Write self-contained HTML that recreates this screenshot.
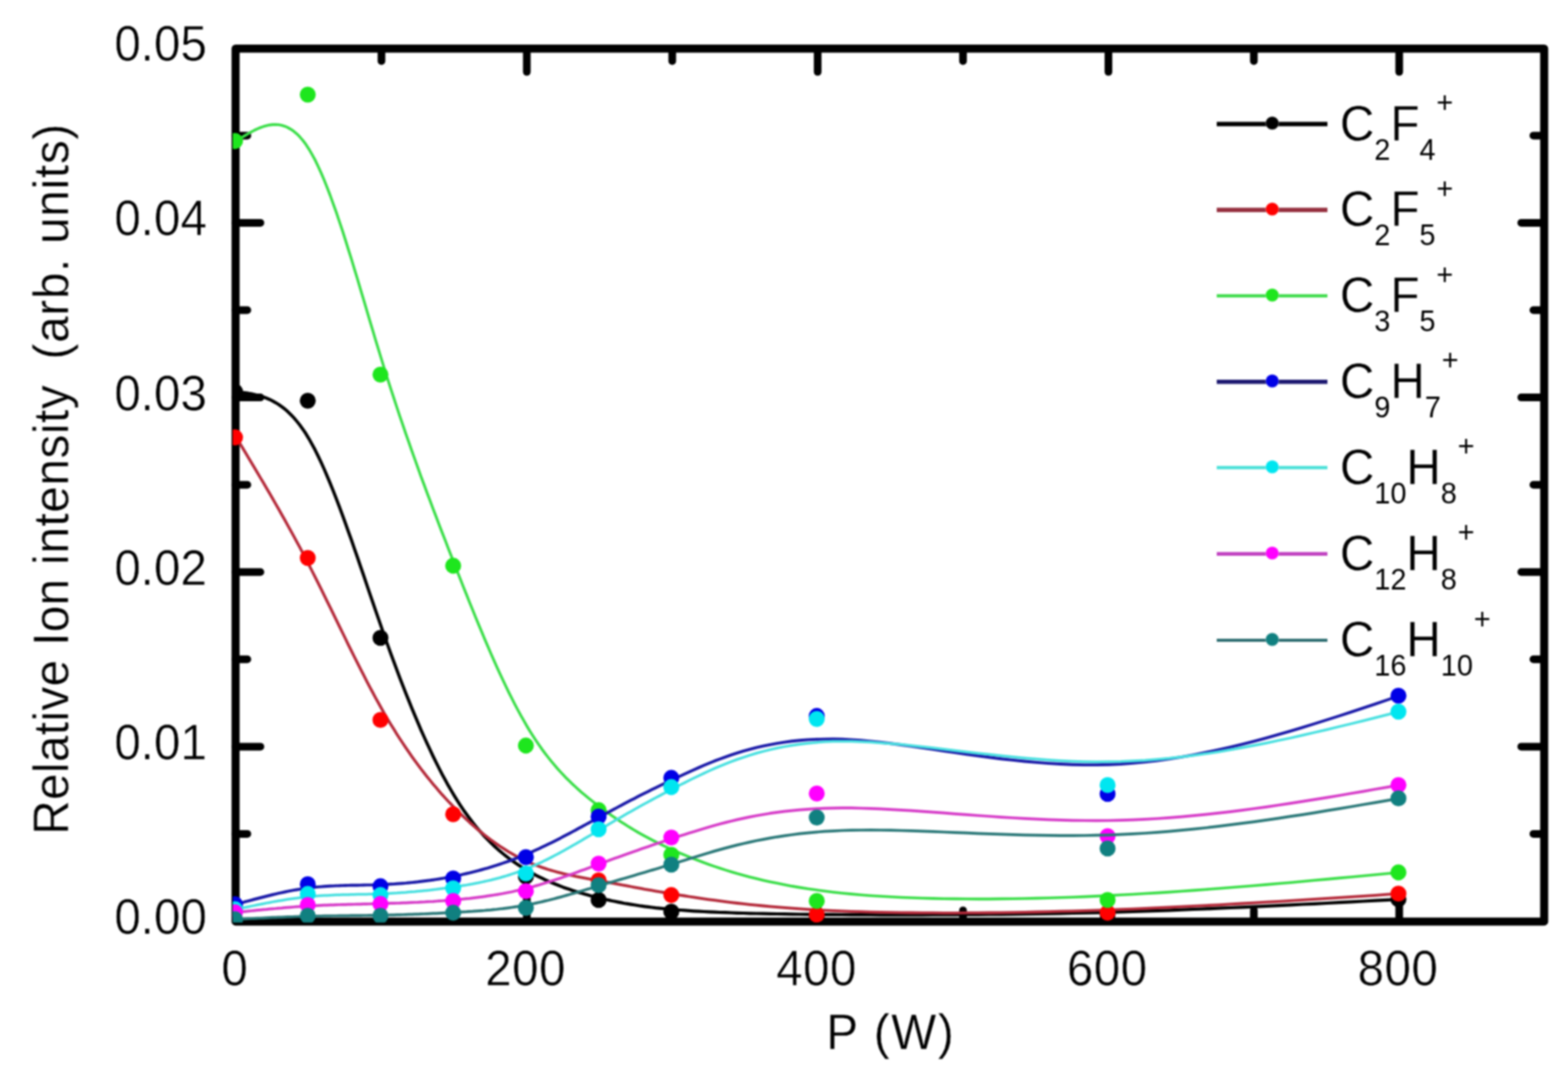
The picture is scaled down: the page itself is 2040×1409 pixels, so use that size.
<!DOCTYPE html>
<html lang="en"><head><meta charset="utf-8"><title>Relative ion intensity vs P (W)</title>
<style>html,body{margin:0;padding:0;background:#fff}svg{display:block}</style></head>
<body>
<svg width="2040" height="1409" viewBox="0 0 2040 1409">
<rect width="2040" height="1409" fill="#ffffff"/>
<defs><filter id="soft" x="0" y="0" width="100%" height="100%" filterUnits="userSpaceOnUse" color-interpolation-filters="sRGB"><feGaussianBlur stdDeviation="1.2"/></filter></defs>
<g filter="url(#soft)">
<defs><clipPath id="pc"><rect x="302.8" y="58" width="1711.7" height="1142.3"/></clipPath></defs>
<g fill="none" stroke="#000" stroke-width="10.5" stroke-linejoin="round" stroke-linecap="round">
<rect x="306.5" y="63.2" width="1702.5" height="1135.7"/>
<path d="M496.3,1198.9 v-14.5 M496.3,63.2 v16.2 M685.4,1198.9 v-30.2 M685.4,63.2 v30.4 M874.6,1198.9 v-14.5 M874.6,63.2 v16.2 M1063.8,1198.9 v-30.2 M1063.8,63.2 v30.4 M1252.9,1198.9 v-14.5 M1252.9,63.2 v16.2 M1442.1,1198.9 v-30.2 M1442.1,63.2 v30.4 M1631.3,1198.9 v-14.5 M1631.3,63.2 v16.2 M1820.4,1198.9 v-30.2 M1820.4,63.2 v30.4 M306.5,1084.9 h15.3 M2009.0,1084.9 h-14.0 M306.5,971.4 h32.3 M2009.0,971.4 h-29.8 M306.5,857.8 h15.3 M2009.0,857.8 h-14.0 M306.5,744.2 h32.3 M2009.0,744.2 h-29.8 M306.5,630.7 h15.3 M2009.0,630.7 h-14.0 M306.5,517.1 h32.3 M2009.0,517.1 h-29.8 M306.5,403.5 h15.3 M2009.0,403.5 h-14.0 M306.5,289.9 h32.3 M2009.0,289.9 h-29.8 M306.5,176.4 h15.3 M2009.0,176.4 h-14.0" stroke-width="10"/>
</g>
<g font-family="'Liberation Sans', Arial, sans-serif" fill="#000" stroke="#fff" stroke-width="0.35">
<g stroke-width="0.6">
<text transform="translate(269.3,1215.0) scale(1.0,1.032)" font-size="62" text-anchor="end">0.00</text>
<text transform="translate(269.3,987.9) scale(1.0,1.032)" font-size="62" text-anchor="end">0.01</text>
<text transform="translate(269.3,760.7) scale(1.0,1.032)" font-size="62" text-anchor="end">0.02</text>
<text transform="translate(269.3,533.6) scale(1.0,1.032)" font-size="62" text-anchor="end">0.03</text>
<text transform="translate(269.3,306.4) scale(1.0,1.032)" font-size="62" text-anchor="end">0.04</text>
<text transform="translate(269.3,79.3) scale(1.0,1.032)" font-size="62" text-anchor="end">0.05</text>
<text transform="translate(305.5,1281.5) scale(1.0,1.032)" font-size="62" text-anchor="middle" letter-spacing="0.5">0</text>
<text transform="translate(683.8,1281.5) scale(1.0,1.032)" font-size="62" text-anchor="middle" letter-spacing="0.5">200</text>
<text transform="translate(1062.2,1281.5) scale(1.0,1.032)" font-size="62" text-anchor="middle" letter-spacing="0.5">400</text>
<text transform="translate(1440.5,1281.5) scale(1.0,1.032)" font-size="62" text-anchor="middle" letter-spacing="0.5">600</text>
<text transform="translate(1818.8,1281.5) scale(1.0,1.032)" font-size="62" text-anchor="middle" letter-spacing="0.5">800</text>
</g>
<text transform="translate(1074.9,1364.7) scale(1.0,1.032)" font-size="62" text-anchor="start" letter-spacing="2.2">P (W)</text>
<text transform="translate(88.6,1086.0) rotate(-90) scale(1.0,1.032)" font-size="62" text-anchor="start" xml:space="preserve" style="white-space:pre"><tspan letter-spacing="0.5">Relative Ion </tspan><tspan letter-spacing="0.8">intensity</tspan><tspan letter-spacing="-0.9">  </tspan><tspan letter-spacing="0.95">(arb. units)</tspan></text>
</g>
<g clip-path="url(#pc)">
<path d="M307.3,509.5 L311.2,510.0 L315.2,510.5 L319.1,511.1 L323.1,511.7 L327.0,512.4 L330.9,513.2 L334.9,514.2 L338.8,515.3 L342.8,516.5 L346.7,518.0 L350.7,519.7 L354.6,521.6 L358.5,523.8 L362.5,526.2 L366.4,529.0 L370.4,532.0 L374.3,535.4 L378.2,539.2 L382.2,543.4 L386.1,548.0 L390.1,553.0 L394.0,558.4 L398.0,564.3 L401.9,570.8 L405.8,577.7 L409.8,585.1 L413.7,593.0 L417.7,601.3 L421.6,610.0 L425.5,619.1 L429.5,628.6 L433.4,638.3 L437.4,648.4 L441.3,658.8 L445.3,669.4 L449.2,680.2 L453.1,691.2 L457.1,702.3 L461.0,713.6 L465.0,725.0 L468.9,736.5 L472.9,748.0 L476.8,759.6 L480.7,771.2 L484.7,782.7 L488.6,794.2 L492.6,805.6 L496.5,816.9 L500.4,828.1 L504.4,839.1 L508.3,850.0 L512.3,860.7 L516.2,871.3 L520.1,881.7 L524.1,891.9 L528.0,902.0 L532.0,911.9 L535.9,921.6 L539.9,931.1 L543.8,940.4 L547.7,949.6 L551.7,958.5 L555.6,967.2 L559.6,975.7 L563.5,984.0 L567.5,992.1 L571.4,999.9 L575.3,1007.5 L579.3,1014.8 L583.2,1021.9 L587.2,1028.8 L591.1,1035.4 L595.0,1041.7 L599.0,1047.8 L602.9,1053.7 L606.9,1059.3 L610.8,1064.6 L614.8,1069.8 L618.7,1074.7 L622.6,1079.4 L626.6,1083.9 L630.5,1088.3 L634.5,1092.4 L638.4,1096.3 L642.3,1100.1 L646.3,1103.7 L650.2,1107.2 L654.2,1110.5 L658.1,1113.6 L662.0,1116.6 L666.0,1119.5 L669.9,1122.3 L673.9,1124.9 L677.8,1127.5 L681.8,1129.9 L685.7,1132.2 L689.6,1134.5 L693.6,1136.7 L697.5,1138.8 L701.5,1140.8 L705.4,1142.7 L709.3,1144.6 L713.3,1146.4 L717.2,1148.1 L721.2,1149.7 L725.1,1151.3 L729.1,1152.9 L733.0,1154.4 L736.9,1155.8 L740.9,1157.1 L744.8,1158.4 L748.8,1159.7 L752.7,1160.9 L756.6,1162.1 L760.6,1163.2 L764.5,1164.3 L768.5,1165.4 L772.4,1166.4 L776.4,1167.4 L780.3,1168.4 L784.2,1169.3 L788.2,1170.2 L792.2,1171.1 L796.1,1172.0 L800.2,1172.8 L804.2,1173.6 L808.3,1174.4 L812.4,1175.2 L816.6,1175.9 L820.9,1176.6 L825.2,1177.3 L829.6,1178.0 L834.0,1178.7 L838.6,1179.3 L843.3,1179.9 L848.0,1180.5 L852.9,1181.1 L857.9,1181.6 L863.0,1182.1 L868.3,1182.6 L873.6,1183.1 L879.2,1183.6 L884.8,1184.0 L890.7,1184.4 L896.7,1184.9 L902.8,1185.3 L909.2,1185.6 L915.7,1186.0 L922.4,1186.3 L929.3,1186.6 L936.5,1187.0 L943.8,1187.2 L951.4,1187.5 L959.1,1187.8 L967.2,1188.0 L975.4,1188.3 L983.9,1188.5 L992.7,1188.7 L1001.7,1188.9 L1011.0,1189.0 L1020.5,1189.2 L1030.3,1189.4 L1040.5,1189.5 L1050.9,1189.6 L1061.6,1189.7 L1072.6,1189.9 L1084.0,1189.9 L1095.6,1190.0 L1107.6,1190.1 L1119.9,1190.2 L1132.5,1190.2 L1145.4,1190.3 L1158.6,1190.3 L1172.0,1190.3 L1185.7,1190.3 L1199.6,1190.3 L1213.7,1190.2 L1228.0,1190.2 L1242.5,1190.1 L1257.2,1190.0 L1272.1,1189.9 L1287.1,1189.7 L1302.3,1189.6 L1317.5,1189.4 L1332.9,1189.1 L1348.4,1188.9 L1364.0,1188.6 L1379.6,1188.3 L1395.3,1188.0 L1411.0,1187.6 L1426.7,1187.3 L1442.5,1186.8 L1458.3,1186.4 L1474.0,1185.9 L1489.8,1185.4 L1505.6,1184.8 L1521.3,1184.3 L1537.1,1183.7 L1552.9,1183.0 L1568.6,1182.4 L1584.4,1181.7 L1600.2,1181.0 L1615.9,1180.3 L1631.7,1179.6 L1647.5,1178.9 L1663.2,1178.1 L1679.0,1177.3 L1694.8,1176.5 L1710.5,1175.8 L1726.3,1175.0 L1742.1,1174.1 L1757.8,1173.3 L1773.6,1172.5 L1789.4,1171.7 L1805.1,1170.8 L1820.9,1170.0" fill="none" stroke="#000000" stroke-width="4.2" stroke-linejoin="round" stroke-linecap="round"/>
<g fill="#000000"><circle cx="305.8" cy="509.5" r="10.4"/><circle cx="400.4" cy="521.3" r="10.4"/><circle cx="495.0" cy="829.9" r="10.4"/><circle cx="684.2" cy="1140.5" r="10.4"/><circle cx="778.8" cy="1170.9" r="10.4"/><circle cx="873.4" cy="1186.2" r="10.4"/><circle cx="1062.6" cy="1191.0" r="10.4"/><circle cx="1441.0" cy="1190.0" r="10.4"/><circle cx="1819.4" cy="1170.0" r="10.4"/></g>
<path d="M307.3,569.0 L311.2,575.5 L315.2,582.1 L319.1,588.6 L323.1,595.2 L327.0,601.7 L330.9,608.3 L334.9,615.0 L338.8,621.6 L342.8,628.3 L346.7,635.0 L350.7,641.7 L354.6,648.5 L358.5,655.4 L362.5,662.3 L366.4,669.2 L370.4,676.2 L374.3,683.3 L378.2,690.4 L382.2,697.6 L386.1,704.9 L390.1,712.2 L394.0,719.7 L398.0,727.2 L401.9,734.8 L405.8,742.5 L409.8,750.3 L413.7,758.2 L417.7,766.1 L421.6,774.1 L425.5,782.1 L429.5,790.2 L433.4,798.2 L437.4,806.3 L441.3,814.4 L445.3,822.5 L449.2,830.5 L453.1,838.6 L457.1,846.6 L461.0,854.5 L465.0,862.4 L468.9,870.2 L472.9,877.9 L476.8,885.6 L480.7,893.1 L484.7,900.5 L488.6,907.8 L492.6,915.0 L496.5,922.0 L500.4,928.9 L504.4,935.6 L508.3,942.2 L512.3,948.6 L516.2,954.9 L520.1,961.0 L524.1,967.0 L528.0,972.9 L532.0,978.7 L535.9,984.3 L539.9,989.8 L543.8,995.1 L547.7,1000.4 L551.7,1005.5 L555.6,1010.5 L559.6,1015.4 L563.5,1020.2 L567.5,1024.8 L571.4,1029.4 L575.3,1033.9 L579.3,1038.2 L583.2,1042.5 L587.2,1046.6 L591.1,1050.7 L595.0,1054.7 L599.0,1058.6 L602.9,1062.4 L606.9,1066.1 L610.8,1069.7 L614.8,1073.2 L618.7,1076.7 L622.6,1080.0 L626.6,1083.3 L630.5,1086.4 L634.5,1089.5 L638.4,1092.5 L642.3,1095.3 L646.3,1098.1 L650.2,1100.8 L654.2,1103.4 L658.1,1105.9 L662.0,1108.3 L666.0,1110.6 L669.9,1112.9 L673.9,1115.0 L677.8,1117.0 L681.8,1118.9 L685.7,1120.8 L689.6,1122.5 L693.6,1124.2 L697.5,1125.7 L701.5,1127.2 L705.4,1128.6 L709.3,1129.9 L713.3,1131.2 L717.2,1132.4 L721.2,1133.5 L725.1,1134.6 L729.1,1135.6 L733.0,1136.6 L736.9,1137.5 L740.9,1138.4 L744.8,1139.2 L748.8,1140.1 L752.7,1140.8 L756.6,1141.6 L760.6,1142.4 L764.5,1143.1 L768.5,1143.8 L772.4,1144.5 L776.4,1145.2 L780.3,1145.9 L784.2,1146.7 L788.2,1147.4 L792.2,1148.1 L796.1,1148.9 L800.2,1149.6 L804.2,1150.4 L808.3,1151.2 L812.4,1151.9 L816.6,1152.7 L820.9,1153.5 L825.2,1154.3 L829.6,1155.1 L834.0,1155.9 L838.6,1156.8 L843.3,1157.6 L848.0,1158.4 L852.9,1159.3 L857.9,1160.2 L863.0,1161.0 L868.3,1161.9 L873.6,1162.8 L879.2,1163.7 L884.8,1164.6 L890.7,1165.5 L896.7,1166.5 L902.8,1167.4 L909.2,1168.4 L915.7,1169.3 L922.4,1170.3 L929.3,1171.2 L936.5,1172.2 L943.8,1173.1 L951.4,1174.1 L959.1,1175.0 L967.2,1175.9 L975.4,1176.8 L983.9,1177.7 L992.7,1178.5 L1001.7,1179.4 L1011.0,1180.2 L1020.5,1180.9 L1030.3,1181.7 L1040.5,1182.4 L1050.9,1183.1 L1061.6,1183.7 L1072.6,1184.3 L1084.0,1184.8 L1095.6,1185.3 L1107.6,1185.8 L1119.9,1186.2 L1132.5,1186.6 L1145.4,1186.9 L1158.6,1187.1 L1172.0,1187.3 L1185.7,1187.5 L1199.6,1187.6 L1213.7,1187.7 L1228.0,1187.8 L1242.5,1187.8 L1257.2,1187.7 L1272.1,1187.6 L1287.1,1187.5 L1302.3,1187.3 L1317.5,1187.1 L1332.9,1186.8 L1348.4,1186.5 L1364.0,1186.1 L1379.6,1185.7 L1395.3,1185.3 L1411.0,1184.8 L1426.7,1184.3 L1442.5,1183.8 L1458.3,1183.2 L1474.0,1182.6 L1489.8,1181.9 L1505.6,1181.2 L1521.3,1180.5 L1537.1,1179.7 L1552.9,1178.9 L1568.6,1178.1 L1584.4,1177.3 L1600.2,1176.4 L1615.9,1175.5 L1631.7,1174.6 L1647.5,1173.7 L1663.2,1172.8 L1679.0,1171.8 L1694.8,1170.8 L1710.5,1169.8 L1726.3,1168.8 L1742.1,1167.8 L1757.8,1166.8 L1773.6,1165.8 L1789.4,1164.8 L1805.1,1163.7 L1820.9,1162.7" fill="none" stroke="#b42a3a" stroke-width="3.8" stroke-linejoin="round" stroke-linecap="round"/>
<g fill="#ff0000"><circle cx="305.8" cy="569.0" r="10.4"/><circle cx="400.4" cy="725.8" r="10.4"/><circle cx="495.0" cy="936.7" r="10.4"/><circle cx="589.6" cy="1059.4" r="10.4"/><circle cx="778.8" cy="1145.3" r="10.4"/><circle cx="873.4" cy="1164.5" r="10.4"/><circle cx="1062.6" cy="1190.0" r="10.4"/><circle cx="1441.0" cy="1187.5" r="10.4"/><circle cx="1819.4" cy="1162.7" r="10.4"/></g>
<path d="M307.3,183.5 L311.2,181.0 L315.2,178.5 L319.1,176.1 L323.1,173.8 L327.0,171.6 L330.9,169.5 L334.9,167.6 L338.8,166.0 L342.8,164.6 L346.7,163.5 L350.7,162.6 L354.6,162.1 L358.5,162.0 L362.5,162.3 L366.4,163.0 L370.4,164.2 L374.3,165.9 L378.2,168.1 L382.2,170.8 L386.1,174.1 L390.1,178.1 L394.0,182.6 L398.0,187.9 L401.9,193.9 L405.8,200.6 L409.8,207.9 L413.7,216.0 L417.7,224.7 L421.6,233.9 L425.5,243.7 L429.5,254.0 L433.4,264.8 L437.4,275.9 L441.3,287.5 L445.3,299.4 L449.2,311.6 L453.1,324.1 L457.1,336.8 L461.0,349.8 L465.0,362.8 L468.9,376.0 L472.9,389.2 L476.8,402.5 L480.7,415.8 L484.7,429.0 L488.6,442.2 L492.6,455.2 L496.5,468.0 L500.4,480.7 L504.4,493.2 L508.3,505.5 L512.3,517.6 L516.2,529.5 L520.1,541.3 L524.1,552.9 L528.0,564.4 L532.0,575.7 L535.9,586.9 L539.9,598.0 L543.8,608.9 L547.7,619.8 L551.7,630.5 L555.6,641.1 L559.6,651.7 L563.5,662.1 L567.5,672.5 L571.4,682.8 L575.3,693.0 L579.3,703.2 L583.2,713.4 L587.2,723.5 L591.1,733.5 L595.0,743.6 L599.0,753.6 L602.9,763.6 L606.9,773.5 L610.8,783.3 L614.8,793.1 L618.7,802.8 L622.6,812.3 L626.6,821.8 L630.5,831.2 L634.5,840.5 L638.4,849.6 L642.3,858.5 L646.3,867.4 L650.2,876.0 L654.2,884.5 L658.1,892.8 L662.0,900.9 L666.0,908.8 L669.9,916.5 L673.9,924.0 L677.8,931.2 L681.8,938.2 L685.7,945.0 L689.6,951.5 L693.6,957.7 L697.5,963.7 L701.5,969.5 L705.4,975.1 L709.3,980.4 L713.3,985.5 L717.2,990.4 L721.2,995.2 L725.1,999.7 L729.1,1004.1 L733.0,1008.3 L736.9,1012.4 L740.9,1016.3 L744.8,1020.1 L748.8,1023.8 L752.7,1027.3 L756.6,1030.8 L760.6,1034.1 L764.5,1037.4 L768.5,1040.6 L772.4,1043.7 L776.4,1046.7 L780.3,1049.7 L784.2,1052.6 L788.2,1055.5 L792.2,1058.4 L796.1,1061.2 L800.2,1064.0 L804.2,1066.7 L808.3,1069.4 L812.4,1072.1 L816.6,1074.8 L820.9,1077.4 L825.2,1080.0 L829.6,1082.6 L834.0,1085.1 L838.6,1087.6 L843.3,1090.2 L848.0,1092.7 L852.9,1095.2 L857.9,1097.6 L863.0,1100.1 L868.3,1102.6 L873.6,1105.1 L879.2,1107.5 L884.8,1110.0 L890.7,1112.4 L896.7,1114.9 L902.8,1117.4 L909.2,1119.8 L915.7,1122.3 L922.4,1124.7 L929.3,1127.1 L936.5,1129.5 L943.8,1131.9 L951.4,1134.2 L959.1,1136.5 L967.2,1138.7 L975.4,1140.9 L983.9,1143.1 L992.7,1145.2 L1001.7,1147.2 L1011.0,1149.1 L1020.5,1151.0 L1030.3,1152.9 L1040.5,1154.6 L1050.9,1156.3 L1061.6,1157.8 L1072.6,1159.3 L1084.0,1160.7 L1095.6,1162.0 L1107.6,1163.1 L1119.9,1164.2 L1132.5,1165.2 L1145.4,1166.0 L1158.6,1166.8 L1172.0,1167.5 L1185.7,1168.0 L1199.6,1168.5 L1213.7,1168.9 L1228.0,1169.2 L1242.5,1169.4 L1257.2,1169.5 L1272.1,1169.6 L1287.1,1169.6 L1302.3,1169.4 L1317.5,1169.2 L1332.9,1169.0 L1348.4,1168.6 L1364.0,1168.2 L1379.6,1167.7 L1395.3,1167.2 L1411.0,1166.6 L1426.7,1165.9 L1442.5,1165.1 L1458.3,1164.3 L1474.0,1163.5 L1489.8,1162.5 L1505.6,1161.6 L1521.3,1160.6 L1537.1,1159.5 L1552.9,1158.4 L1568.6,1157.2 L1584.4,1156.0 L1600.2,1154.8 L1615.9,1153.5 L1631.7,1152.2 L1647.5,1150.9 L1663.2,1149.5 L1679.0,1148.2 L1694.8,1146.8 L1710.5,1145.3 L1726.3,1143.9 L1742.1,1142.4 L1757.8,1141.0 L1773.6,1139.5 L1789.4,1138.0 L1805.1,1136.5 L1820.9,1135.0" fill="none" stroke="#3ade48" stroke-width="3.6" stroke-linejoin="round" stroke-linecap="round"/>
<g fill="#1ee61e"><circle cx="305.8" cy="183.5" r="10.4"/><circle cx="400.4" cy="123.1" r="10.4"/><circle cx="495.0" cy="487.3" r="10.4"/><circle cx="589.6" cy="736.0" r="10.4"/><circle cx="684.2" cy="970.0" r="10.4"/><circle cx="778.8" cy="1054.0" r="10.4"/><circle cx="873.4" cy="1112.1" r="10.4"/><circle cx="1062.6" cy="1172.2" r="10.4"/><circle cx="1441.0" cy="1170.9" r="10.4"/><circle cx="1819.4" cy="1135.0" r="10.4"/></g>
<path d="M307.3,1176.5 L311.2,1175.4 L315.2,1174.3 L319.1,1173.2 L323.1,1172.2 L327.0,1171.1 L330.9,1170.0 L334.9,1169.0 L338.8,1168.0 L342.8,1167.0 L346.7,1166.0 L350.7,1165.0 L354.6,1164.0 L358.5,1163.1 L362.5,1162.2 L366.4,1161.4 L370.4,1160.5 L374.3,1159.7 L378.2,1158.9 L382.2,1158.2 L386.1,1157.5 L390.1,1156.9 L394.0,1156.3 L398.0,1155.7 L401.9,1155.2 L405.8,1154.7 L409.8,1154.3 L413.7,1153.9 L417.7,1153.6 L421.6,1153.3 L425.5,1153.0 L429.5,1152.8 L433.4,1152.6 L437.4,1152.4 L441.3,1152.3 L445.3,1152.1 L449.2,1152.0 L453.1,1151.9 L457.1,1151.8 L461.0,1151.8 L465.0,1151.7 L468.9,1151.6 L472.9,1151.5 L476.8,1151.4 L480.7,1151.4 L484.7,1151.3 L488.6,1151.1 L492.6,1151.0 L496.5,1150.9 L500.4,1150.7 L504.4,1150.5 L508.3,1150.3 L512.3,1150.1 L516.2,1149.8 L520.1,1149.5 L524.1,1149.2 L528.0,1148.9 L532.0,1148.5 L535.9,1148.1 L539.9,1147.7 L543.8,1147.3 L547.7,1146.8 L551.7,1146.3 L555.6,1145.8 L559.6,1145.3 L563.5,1144.7 L567.5,1144.1 L571.4,1143.5 L575.3,1142.8 L579.3,1142.1 L583.2,1141.4 L587.2,1140.7 L591.1,1139.9 L595.0,1139.1 L599.0,1138.3 L602.9,1137.4 L606.9,1136.5 L610.8,1135.6 L614.8,1134.6 L618.7,1133.6 L622.6,1132.6 L626.6,1131.5 L630.5,1130.4 L634.5,1129.3 L638.4,1128.1 L642.3,1126.9 L646.3,1125.7 L650.2,1124.4 L654.2,1123.0 L658.1,1121.7 L662.0,1120.3 L666.0,1118.8 L669.9,1117.4 L673.9,1115.8 L677.8,1114.3 L681.8,1112.7 L685.7,1111.0 L689.6,1109.3 L693.6,1107.6 L697.5,1105.8 L701.5,1104.0 L705.4,1102.1 L709.3,1100.2 L713.3,1098.3 L717.2,1096.4 L721.2,1094.4 L725.1,1092.4 L729.1,1090.4 L733.0,1088.3 L736.9,1086.3 L740.9,1084.2 L744.8,1082.1 L748.8,1080.0 L752.7,1077.8 L756.6,1075.7 L760.6,1073.6 L764.5,1071.4 L768.5,1069.3 L772.4,1067.1 L776.4,1065.0 L780.3,1062.8 L784.2,1060.7 L788.2,1058.5 L792.2,1056.4 L796.1,1054.2 L800.2,1052.1 L804.2,1049.9 L808.3,1047.7 L812.4,1045.5 L816.6,1043.3 L820.9,1041.1 L825.2,1038.9 L829.6,1036.6 L834.0,1034.3 L838.6,1032.0 L843.3,1029.7 L848.0,1027.3 L852.9,1024.9 L857.9,1022.5 L863.0,1020.0 L868.3,1017.5 L873.6,1014.9 L879.2,1012.3 L884.8,1009.7 L890.7,1007.0 L896.7,1004.2 L902.8,1001.4 L909.2,998.6 L915.7,995.8 L922.4,993.0 L929.3,990.2 L936.5,987.5 L943.8,984.8 L951.4,982.2 L959.1,979.7 L967.2,977.2 L975.4,974.9 L983.9,972.7 L992.7,970.7 L1001.7,968.8 L1011.0,967.1 L1020.5,965.6 L1030.3,964.3 L1040.5,963.3 L1050.9,962.4 L1061.6,961.9 L1072.6,961.6 L1084.0,961.5 L1095.6,961.8 L1107.6,962.4 L1119.9,963.3 L1132.5,964.4 L1145.4,965.8 L1158.6,967.3 L1172.0,969.0 L1185.7,970.9 L1199.6,972.9 L1213.7,974.9 L1228.0,977.0 L1242.5,979.1 L1257.2,981.2 L1272.1,983.3 L1287.1,985.3 L1302.3,987.2 L1317.5,988.9 L1332.9,990.5 L1348.4,991.9 L1364.0,993.1 L1379.6,994.0 L1395.3,994.7 L1411.0,995.1 L1426.7,995.1 L1442.5,994.7 L1458.3,994.0 L1474.0,992.8 L1489.8,991.4 L1505.6,989.5 L1521.3,987.4 L1537.1,984.9 L1552.9,982.1 L1568.6,979.0 L1584.4,975.7 L1600.2,972.1 L1615.9,968.3 L1631.7,964.3 L1647.5,960.1 L1663.2,955.6 L1679.0,951.1 L1694.8,946.4 L1710.5,941.5 L1726.3,936.5 L1742.1,931.5 L1757.8,926.3 L1773.6,921.1 L1789.4,915.8 L1805.1,910.5 L1820.9,905.2" fill="none" stroke="#1a1aa8" stroke-width="3.9" stroke-linejoin="round" stroke-linecap="round"/>
<g fill="#0000e6"><circle cx="305.8" cy="1176.5" r="10.4"/><circle cx="400.4" cy="1150.4" r="10.4"/><circle cx="495.0" cy="1153.0" r="10.4"/><circle cx="589.6" cy="1142.8" r="10.4"/><circle cx="684.2" cy="1115.2" r="10.4"/><circle cx="778.8" cy="1062.4" r="10.4"/><circle cx="873.4" cy="1012.0" r="10.4"/><circle cx="1062.6" cy="931.5" r="10.4"/><circle cx="1441.0" cy="1032.9" r="10.4"/><circle cx="1819.4" cy="905.2" r="10.4"/></g>
<path d="M307.3,1183.0 L311.2,1182.2 L315.2,1181.3 L319.1,1180.5 L323.1,1179.7 L327.0,1178.9 L330.9,1178.1 L334.9,1177.3 L338.8,1176.5 L342.8,1175.7 L346.7,1174.9 L350.7,1174.2 L354.6,1173.4 L358.5,1172.7 L362.5,1172.0 L366.4,1171.4 L370.4,1170.7 L374.3,1170.1 L378.2,1169.5 L382.2,1168.9 L386.1,1168.4 L390.1,1167.9 L394.0,1167.4 L398.0,1167.0 L401.9,1166.6 L405.8,1166.2 L409.8,1165.9 L413.7,1165.6 L417.7,1165.3 L421.6,1165.1 L425.5,1164.9 L429.5,1164.7 L433.4,1164.5 L437.4,1164.3 L441.3,1164.2 L445.3,1164.1 L449.2,1164.0 L453.1,1163.9 L457.1,1163.8 L461.0,1163.7 L465.0,1163.6 L468.9,1163.5 L472.9,1163.4 L476.8,1163.4 L480.7,1163.3 L484.7,1163.2 L488.6,1163.0 L492.6,1162.9 L496.5,1162.8 L500.4,1162.6 L504.4,1162.4 L508.3,1162.2 L512.3,1162.0 L516.2,1161.8 L520.1,1161.5 L524.1,1161.2 L528.0,1161.0 L532.0,1160.6 L535.9,1160.3 L539.9,1160.0 L543.8,1159.6 L547.7,1159.2 L551.7,1158.8 L555.6,1158.4 L559.6,1158.0 L563.5,1157.5 L567.5,1157.1 L571.4,1156.6 L575.3,1156.1 L579.3,1155.6 L583.2,1155.0 L587.2,1154.5 L591.1,1153.9 L595.0,1153.3 L599.0,1152.7 L602.9,1152.0 L606.9,1151.4 L610.8,1150.7 L614.8,1150.0 L618.7,1149.2 L622.6,1148.5 L626.6,1147.6 L630.5,1146.8 L634.5,1145.9 L638.4,1145.0 L642.3,1144.0 L646.3,1143.0 L650.2,1142.0 L654.2,1140.8 L658.1,1139.7 L662.0,1138.5 L666.0,1137.2 L669.9,1135.9 L673.9,1134.5 L677.8,1133.1 L681.8,1131.6 L685.7,1130.0 L689.6,1128.4 L693.6,1126.7 L697.5,1124.9 L701.5,1123.1 L705.4,1121.3 L709.3,1119.3 L713.3,1117.4 L717.2,1115.4 L721.2,1113.3 L725.1,1111.2 L729.1,1109.1 L733.0,1106.9 L736.9,1104.7 L740.9,1102.5 L744.8,1100.2 L748.8,1098.0 L752.7,1095.7 L756.6,1093.4 L760.6,1091.0 L764.5,1088.7 L768.5,1086.4 L772.4,1084.0 L776.4,1081.7 L780.3,1079.3 L784.2,1077.0 L788.2,1074.7 L792.2,1072.3 L796.1,1070.0 L800.2,1067.6 L804.2,1065.3 L808.3,1062.9 L812.4,1060.5 L816.6,1058.1 L820.9,1055.7 L825.2,1053.3 L829.6,1050.8 L834.0,1048.3 L838.6,1045.8 L843.3,1043.2 L848.0,1040.6 L852.9,1038.0 L857.9,1035.4 L863.0,1032.6 L868.3,1029.9 L873.6,1027.1 L879.2,1024.2 L884.8,1021.3 L890.7,1018.4 L896.7,1015.3 L902.8,1012.3 L909.2,1009.2 L915.7,1006.1 L922.4,1003.0 L929.3,999.9 L936.5,996.8 L943.8,993.8 L951.4,990.9 L959.1,988.0 L967.2,985.3 L975.4,982.6 L983.9,980.0 L992.7,977.6 L1001.7,975.4 L1011.0,973.3 L1020.5,971.4 L1030.3,969.7 L1040.5,968.2 L1050.9,966.9 L1061.6,965.9 L1072.6,965.1 L1084.0,964.6 L1095.6,964.4 L1107.6,964.5 L1119.9,964.9 L1132.5,965.5 L1145.4,966.4 L1158.6,967.4 L1172.0,968.6 L1185.7,970.0 L1199.6,971.5 L1213.7,973.1 L1228.0,974.8 L1242.5,976.5 L1257.2,978.2 L1272.1,979.9 L1287.1,981.6 L1302.3,983.3 L1317.5,984.8 L1332.9,986.2 L1348.4,987.6 L1364.0,988.7 L1379.6,989.7 L1395.3,990.4 L1411.0,990.9 L1426.7,991.2 L1442.5,991.1 L1458.3,990.8 L1474.0,990.1 L1489.8,989.2 L1505.6,987.9 L1521.3,986.5 L1537.1,984.7 L1552.9,982.8 L1568.6,980.6 L1584.4,978.2 L1600.2,975.6 L1615.9,972.8 L1631.7,969.8 L1647.5,966.7 L1663.2,963.4 L1679.0,960.1 L1694.8,956.5 L1710.5,952.9 L1726.3,949.2 L1742.1,945.4 L1757.8,941.6 L1773.6,937.7 L1789.4,933.7 L1805.1,929.8 L1820.9,925.8" fill="none" stroke="#48e0e0" stroke-width="3.5" stroke-linejoin="round" stroke-linecap="round"/>
<g fill="#00e6f0"><circle cx="305.8" cy="1183.0" r="10.4"/><circle cx="400.4" cy="1163.0" r="10.4"/><circle cx="495.0" cy="1164.5" r="10.4"/><circle cx="589.6" cy="1155.6" r="10.4"/><circle cx="684.2" cy="1136.4" r="10.4"/><circle cx="778.8" cy="1078.9" r="10.4"/><circle cx="873.4" cy="1024.0" r="10.4"/><circle cx="1062.6" cy="935.3" r="10.4"/><circle cx="1441.0" cy="1021.4" r="10.4"/><circle cx="1819.4" cy="925.8" r="10.4"/></g>
<path d="M307.3,1187.0 L311.2,1186.6 L315.2,1186.2 L319.1,1185.8 L323.1,1185.4 L327.0,1185.0 L330.9,1184.6 L334.9,1184.2 L338.8,1183.8 L342.8,1183.4 L346.7,1183.1 L350.7,1182.7 L354.6,1182.3 L358.5,1182.0 L362.5,1181.6 L366.4,1181.3 L370.4,1180.9 L374.3,1180.6 L378.2,1180.3 L382.2,1180.0 L386.1,1179.7 L390.1,1179.5 L394.0,1179.2 L398.0,1178.9 L401.9,1178.7 L405.8,1178.5 L409.8,1178.3 L413.7,1178.1 L417.7,1177.9 L421.6,1177.7 L425.5,1177.6 L429.5,1177.4 L433.4,1177.3 L437.4,1177.1 L441.3,1177.0 L445.3,1176.9 L449.2,1176.8 L453.1,1176.7 L457.1,1176.6 L461.0,1176.5 L465.0,1176.4 L468.9,1176.3 L472.9,1176.2 L476.8,1176.1 L480.7,1176.0 L484.7,1175.9 L488.6,1175.8 L492.6,1175.7 L496.5,1175.6 L500.4,1175.5 L504.4,1175.4 L508.3,1175.2 L512.3,1175.1 L516.2,1175.0 L520.1,1174.9 L524.1,1174.7 L528.0,1174.6 L532.0,1174.4 L535.9,1174.2 L539.9,1174.0 L543.8,1173.9 L547.7,1173.7 L551.7,1173.5 L555.6,1173.2 L559.6,1173.0 L563.5,1172.8 L567.5,1172.5 L571.4,1172.2 L575.3,1172.0 L579.3,1171.7 L583.2,1171.4 L587.2,1171.0 L591.1,1170.7 L595.0,1170.3 L599.0,1170.0 L602.9,1169.6 L606.9,1169.2 L610.8,1168.8 L614.8,1168.3 L618.7,1167.8 L622.6,1167.3 L626.6,1166.8 L630.5,1166.3 L634.5,1165.7 L638.4,1165.1 L642.3,1164.5 L646.3,1163.9 L650.2,1163.2 L654.2,1162.5 L658.1,1161.7 L662.0,1161.0 L666.0,1160.2 L669.9,1159.3 L673.9,1158.4 L677.8,1157.5 L681.8,1156.6 L685.7,1155.6 L689.6,1154.5 L693.6,1153.5 L697.5,1152.4 L701.5,1151.2 L705.4,1150.0 L709.3,1148.8 L713.3,1147.6 L717.2,1146.3 L721.2,1145.1 L725.1,1143.7 L729.1,1142.4 L733.0,1141.1 L736.9,1139.7 L740.9,1138.3 L744.8,1136.9 L748.8,1135.5 L752.7,1134.1 L756.6,1132.6 L760.6,1131.2 L764.5,1129.7 L768.5,1128.3 L772.4,1126.8 L776.4,1125.4 L780.3,1123.9 L784.2,1122.4 L788.2,1121.0 L792.2,1119.5 L796.1,1118.1 L800.2,1116.6 L804.2,1115.2 L808.3,1113.7 L812.4,1112.2 L816.6,1110.7 L820.9,1109.2 L825.2,1107.7 L829.6,1106.2 L834.0,1104.6 L838.6,1103.0 L843.3,1101.4 L848.0,1099.8 L852.9,1098.1 L857.9,1096.5 L863.0,1094.8 L868.3,1093.0 L873.6,1091.3 L879.2,1089.5 L884.8,1087.6 L890.7,1085.7 L896.7,1083.8 L902.8,1081.9 L909.2,1079.9 L915.7,1077.9 L922.4,1075.9 L929.3,1074.0 L936.5,1072.0 L943.8,1070.1 L951.4,1068.2 L959.1,1066.4 L967.2,1064.6 L975.4,1062.9 L983.9,1061.2 L992.7,1059.7 L1001.7,1058.2 L1011.0,1056.9 L1020.5,1055.7 L1030.3,1054.6 L1040.5,1053.6 L1050.9,1052.8 L1061.6,1052.1 L1072.6,1051.6 L1084.0,1051.3 L1095.6,1051.2 L1107.6,1051.2 L1119.9,1051.5 L1132.5,1051.9 L1145.4,1052.4 L1158.6,1053.1 L1172.0,1053.8 L1185.7,1054.7 L1199.6,1055.7 L1213.7,1056.7 L1228.0,1057.7 L1242.5,1058.8 L1257.2,1059.9 L1272.1,1061.0 L1287.1,1062.0 L1302.3,1063.1 L1317.5,1064.0 L1332.9,1064.9 L1348.4,1065.7 L1364.0,1066.3 L1379.6,1066.9 L1395.3,1067.3 L1411.0,1067.5 L1426.7,1067.6 L1442.5,1067.5 L1458.3,1067.1 L1474.0,1066.6 L1489.8,1065.9 L1505.6,1065.0 L1521.3,1063.9 L1537.1,1062.6 L1552.9,1061.2 L1568.6,1059.6 L1584.4,1057.9 L1600.2,1056.1 L1615.9,1054.1 L1631.7,1052.0 L1647.5,1049.8 L1663.2,1047.5 L1679.0,1045.2 L1694.8,1042.7 L1710.5,1040.2 L1726.3,1037.6 L1742.1,1035.0 L1757.8,1032.3 L1773.6,1029.6 L1789.4,1026.8 L1805.1,1024.1 L1820.9,1021.3" fill="none" stroke="#d63cc8" stroke-width="3.7" stroke-linejoin="round" stroke-linecap="round"/>
<g fill="#ff00ff"><circle cx="305.8" cy="1187.0" r="10.4"/><circle cx="400.4" cy="1177.3" r="10.4"/><circle cx="495.0" cy="1176.0" r="10.4"/><circle cx="589.6" cy="1172.2" r="10.4"/><circle cx="684.2" cy="1159.4" r="10.4"/><circle cx="778.8" cy="1123.6" r="10.4"/><circle cx="873.4" cy="1089.6" r="10.4"/><circle cx="1062.6" cy="1032.4" r="10.4"/><circle cx="1441.0" cy="1087.8" r="10.4"/><circle cx="1819.4" cy="1021.3" r="10.4"/></g>
<path d="M307.3,1196.0 L311.2,1195.8 L315.2,1195.6 L319.1,1195.4 L323.1,1195.2 L327.0,1195.0 L330.9,1194.8 L334.9,1194.6 L338.8,1194.5 L342.8,1194.3 L346.7,1194.1 L350.7,1193.9 L354.6,1193.7 L358.5,1193.6 L362.5,1193.4 L366.4,1193.3 L370.4,1193.1 L374.3,1192.9 L378.2,1192.8 L382.2,1192.7 L386.1,1192.5 L390.1,1192.4 L394.0,1192.3 L398.0,1192.2 L401.9,1192.1 L405.8,1192.0 L409.8,1191.9 L413.7,1191.8 L417.7,1191.8 L421.6,1191.7 L425.5,1191.6 L429.5,1191.6 L433.4,1191.5 L437.4,1191.5 L441.3,1191.4 L445.3,1191.4 L449.2,1191.3 L453.1,1191.3 L457.1,1191.2 L461.0,1191.2 L465.0,1191.1 L468.9,1191.1 L472.9,1191.0 L476.8,1191.0 L480.7,1190.9 L484.7,1190.9 L488.6,1190.8 L492.6,1190.7 L496.5,1190.7 L500.4,1190.6 L504.4,1190.5 L508.3,1190.4 L512.3,1190.3 L516.2,1190.2 L520.1,1190.1 L524.1,1190.0 L528.0,1189.8 L532.0,1189.7 L535.9,1189.6 L539.9,1189.4 L543.8,1189.3 L547.7,1189.1 L551.7,1189.0 L555.6,1188.8 L559.6,1188.6 L563.5,1188.4 L567.5,1188.3 L571.4,1188.1 L575.3,1187.9 L579.3,1187.7 L583.2,1187.5 L587.2,1187.3 L591.1,1187.1 L595.0,1186.9 L599.0,1186.6 L602.9,1186.4 L606.9,1186.2 L610.8,1185.9 L614.8,1185.7 L618.7,1185.4 L622.6,1185.1 L626.6,1184.8 L630.5,1184.5 L634.5,1184.1 L638.4,1183.8 L642.3,1183.4 L646.3,1183.0 L650.2,1182.5 L654.2,1182.1 L658.1,1181.6 L662.0,1181.1 L666.0,1180.5 L669.9,1179.9 L673.9,1179.3 L677.8,1178.7 L681.8,1178.0 L685.7,1177.3 L689.6,1176.5 L693.6,1175.7 L697.5,1174.9 L701.5,1174.0 L705.4,1173.1 L709.3,1172.1 L713.3,1171.2 L717.2,1170.2 L721.2,1169.2 L725.1,1168.1 L729.1,1167.1 L733.0,1166.0 L736.9,1164.9 L740.9,1163.8 L744.8,1162.6 L748.8,1161.5 L752.7,1160.3 L756.6,1159.2 L760.6,1158.0 L764.5,1156.8 L768.5,1155.7 L772.4,1154.5 L776.4,1153.3 L780.3,1152.1 L784.2,1151.0 L788.2,1149.8 L792.2,1148.6 L796.1,1147.5 L800.2,1146.3 L804.2,1145.1 L808.3,1143.9 L812.4,1142.7 L816.6,1141.5 L820.9,1140.2 L825.2,1138.9 L829.6,1137.6 L834.0,1136.3 L838.6,1135.0 L843.3,1133.6 L848.0,1132.1 L852.9,1130.7 L857.9,1129.2 L863.0,1127.6 L868.3,1126.0 L873.6,1124.4 L879.2,1122.7 L884.8,1121.0 L890.7,1119.2 L896.7,1117.3 L902.8,1115.4 L909.2,1113.4 L915.7,1111.4 L922.4,1109.4 L929.3,1107.4 L936.5,1105.4 L943.8,1103.4 L951.4,1101.4 L959.1,1099.4 L967.2,1097.5 L975.4,1095.6 L983.9,1093.8 L992.7,1092.1 L1001.7,1090.4 L1011.0,1088.8 L1020.5,1087.4 L1030.3,1086.0 L1040.5,1084.7 L1050.9,1083.6 L1061.6,1082.6 L1072.6,1081.7 L1084.0,1081.1 L1095.6,1080.5 L1107.6,1080.2 L1119.9,1080.0 L1132.5,1079.9 L1145.4,1080.0 L1158.6,1080.2 L1172.0,1080.5 L1185.7,1080.9 L1199.6,1081.4 L1213.7,1081.9 L1228.0,1082.5 L1242.5,1083.1 L1257.2,1083.7 L1272.1,1084.3 L1287.1,1084.8 L1302.3,1085.4 L1317.5,1085.9 L1332.9,1086.3 L1348.4,1086.7 L1364.0,1086.9 L1379.6,1087.1 L1395.3,1087.1 L1411.0,1087.0 L1426.7,1086.7 L1442.5,1086.3 L1458.3,1085.7 L1474.0,1084.9 L1489.8,1084.0 L1505.6,1082.9 L1521.3,1081.6 L1537.1,1080.2 L1552.9,1078.6 L1568.6,1077.0 L1584.4,1075.2 L1600.2,1073.2 L1615.9,1071.2 L1631.7,1069.1 L1647.5,1066.9 L1663.2,1064.6 L1679.0,1062.2 L1694.8,1059.8 L1710.5,1057.3 L1726.3,1054.7 L1742.1,1052.1 L1757.8,1049.5 L1773.6,1046.8 L1789.4,1044.1 L1805.1,1041.4 L1820.9,1038.7" fill="none" stroke="#2a7878" stroke-width="3.7" stroke-linejoin="round" stroke-linecap="round"/>
<g fill="#108080"><circle cx="305.8" cy="1196.0" r="10.4"/><circle cx="400.4" cy="1191.3" r="10.4"/><circle cx="495.0" cy="1191.3" r="10.4"/><circle cx="589.6" cy="1187.5" r="10.4"/><circle cx="684.2" cy="1181.1" r="10.4"/><circle cx="778.8" cy="1151.7" r="10.4"/><circle cx="873.4" cy="1124.9" r="10.4"/><circle cx="1062.6" cy="1063.6" r="10.4"/><circle cx="1441.0" cy="1103.9" r="10.4"/><circle cx="1819.4" cy="1038.7" r="10.4"/></g>
</g>
<g font-family="'Liberation Sans', Arial, sans-serif" fill="#000" stroke="#fff" stroke-width="0.35">
<path d="M1583,161.3 H1727" stroke="#000000" stroke-width="5.8" fill="none"/>
<circle cx="1655.2" cy="160.2" r="8.6" fill="#000000"/>
<text transform="translate(1743.3,182.6) scale(1.0,1.032)" font-size="62" text-anchor="start">C<tspan font-size="37.5" stroke="none" dy="24.22">2</tspan><tspan dy="-24.22">F</tspan><tspan font-size="37.5" stroke="none" dy="24.22">4</tspan><tspan font-size="37.5" stroke="none" dx="1.2" dy="-59.69">+</tspan></text>
<path d="M1583,273.1 H1727" stroke="#96303f" stroke-width="5.6" fill="none"/>
<circle cx="1655.2" cy="272.0" r="8.6" fill="#ff0000"/>
<text transform="translate(1743.3,294.4) scale(1.0,1.032)" font-size="62" text-anchor="start">C<tspan font-size="37.5" stroke="none" dy="24.22">2</tspan><tspan dy="-24.22">F</tspan><tspan font-size="37.5" stroke="none" dy="24.22">5</tspan><tspan font-size="37.5" stroke="none" dx="1.2" dy="-59.69">+</tspan></text>
<path d="M1583,384.9 H1727" stroke="#40dc4c" stroke-width="4.3" fill="none"/>
<circle cx="1655.2" cy="383.8" r="8.6" fill="#1ee61e"/>
<text transform="translate(1743.3,406.2) scale(1.0,1.032)" font-size="62" text-anchor="start">C<tspan font-size="37.5" stroke="none" dy="24.22">3</tspan><tspan dy="-24.22">F</tspan><tspan font-size="37.5" stroke="none" dy="24.22">5</tspan><tspan font-size="37.5" stroke="none" dx="1.2" dy="-59.69">+</tspan></text>
<path d="M1583,496.7 H1727" stroke="#1c1870" stroke-width="5.6" fill="none"/>
<circle cx="1655.2" cy="495.6" r="8.6" fill="#0000e6"/>
<text transform="translate(1743.3,518.0) scale(1.0,1.032)" font-size="62" text-anchor="start">C<tspan font-size="37.5" stroke="none" dy="24.22">9</tspan><tspan dy="-24.22">H</tspan><tspan font-size="37.5" stroke="none" dy="24.22">7</tspan><tspan font-size="37.5" stroke="none" dx="1.2" dy="-59.69">+</tspan></text>
<path d="M1583,608.4 H1727" stroke="#48e0d8" stroke-width="4.3" fill="none"/>
<circle cx="1655.2" cy="607.3" r="8.6" fill="#00e6f0"/>
<text transform="translate(1743.3,629.7) scale(1.0,1.032)" font-size="62" text-anchor="start">C<tspan font-size="37.5" stroke="none" dy="24.22">10</tspan><tspan dy="-24.22">H</tspan><tspan font-size="37.5" stroke="none" dy="24.22">8</tspan><tspan font-size="37.5" stroke="none" dx="1.2" dy="-59.69">+</tspan></text>
<path d="M1583,720.6 H1727" stroke="#c040c0" stroke-width="4.9" fill="none"/>
<circle cx="1655.2" cy="719.5" r="8.6" fill="#ff00ff"/>
<text transform="translate(1743.3,741.9) scale(1.0,1.032)" font-size="62" text-anchor="start">C<tspan font-size="37.5" stroke="none" dy="24.22">12</tspan><tspan dy="-24.22">H</tspan><tspan font-size="37.5" stroke="none" dy="24.22">8</tspan><tspan font-size="37.5" stroke="none" dx="1.2" dy="-59.69">+</tspan></text>
<path d="M1583,833.0 H1727" stroke="#2c6c70" stroke-width="4.0" fill="none"/>
<circle cx="1655.2" cy="831.9" r="8.6" fill="#108080"/>
<text transform="translate(1743.3,854.3) scale(1.0,1.032)" font-size="62" text-anchor="start">C<tspan font-size="37.5" stroke="none" dy="24.22">16</tspan><tspan dy="-24.22">H</tspan><tspan font-size="37.5" stroke="none" dy="24.22">10</tspan><tspan font-size="37.5" stroke="none" dx="1.2" dy="-59.69">+</tspan></text>
</g>
</g>
</svg>
</body></html>
